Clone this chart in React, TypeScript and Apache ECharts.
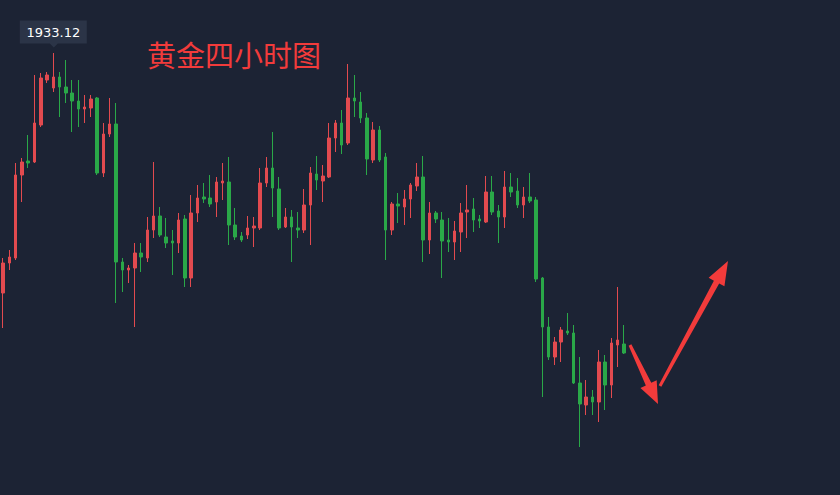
import React, { useEffect, useRef } from "react";
import * as echarts from "echarts";

const openPrices = [
  1897.12, 1901.62, 1902.37, 1914.82, 1916.92, 1916.77, 1922.32, 1929.07, 1927.87, 1929.52,
  1928.02, 1927.12, 1925.92, 1924.72, 1924.87, 1926.37, 1915.12, 1920.97, 1922.47, 1901.77,
  1900.57, 1900.87, 1903.12, 1902.37, 1906.57, 1908.67, 1905.52, 1904.92, 1904.62, 1908.22,
  1899.37, 1909.12, 1911.52, 1911.37, 1910.77, 1913.62, 1913.77, 1907.32, 1905.67, 1905.82,
  1906.87, 1906.87, 1913.62, 1915.87, 1912.72, 1907.02, 1908.52, 1906.87, 1906.57, 1910.32,
  1914.97, 1913.92, 1914.52, 1920.37, 1922.62, 1919.62, 1926.37, 1925.77, 1923.37, 1917.07,
  1921.57, 1917.52, 1906.57, 1910.47, 1910.02, 1911.22, 1913.17, 1914.52, 1905.07, 1909.12,
  1908.07, 1905.07, 1904.77, 1906.27, 1909.27, 1909.72, 1908.22, 1907.77, 1912.27, 1909.42,
  1908.52, 1913.02, 1912.42, 1910.32, 1911.52, 1911.07, 1899.37, 1892.02, 1887.52, 1889.77,
  1891.42, 1891.12, 1883.62, 1880.32, 1881.52, 1880.77, 1886.77, 1883.32, 1889.32, 1889.47,
];

const closePrices = [
  1901.62, 1902.52, 1914.82, 1916.77, 1916.62, 1922.62, 1929.37, 1929.82, 1929.52, 1928.02,
  1927.12, 1925.92, 1924.72, 1925.02, 1926.22, 1915.12, 1920.97, 1922.47, 1901.77, 1900.57,
  1900.87, 1903.12, 1902.52, 1906.57, 1908.67, 1905.82, 1904.62, 1904.62, 1908.07, 1899.37,
  1909.12, 1911.37, 1911.22, 1910.47, 1913.77, 1913.92, 1907.32, 1905.52, 1905.07, 1906.87,
  1907.17, 1913.62, 1915.87, 1912.87, 1906.87, 1908.52, 1907.02, 1906.57, 1910.32, 1915.12,
  1914.07, 1914.67, 1920.37, 1922.62, 1919.32, 1926.37, 1925.92, 1923.37, 1917.22, 1921.57,
  1917.07, 1906.57, 1910.47, 1910.17, 1911.22, 1913.32, 1914.52, 1905.07, 1909.12, 1908.22,
  1904.92, 1904.77, 1906.42, 1909.12, 1909.57, 1908.07, 1907.92, 1912.27, 1909.27, 1908.52,
  1913.02, 1912.27, 1910.32, 1911.52, 1910.92, 1899.22, 1892.02, 1887.52, 1889.77, 1891.57,
  1891.12, 1883.62, 1880.47, 1881.52, 1880.77, 1886.77, 1883.32, 1889.62, 1890.07, 1888.12,
];

const lowPrices = [
  1891.87, 1900.57, 1902.07, 1910.77, 1915.87, 1916.62, 1922.02, 1928.62, 1927.27, 1923.52,
  1925.62, 1921.27, 1922.02, 1922.62, 1923.52, 1914.82, 1914.52, 1920.52, 1895.62, 1897.27,
  1898.62, 1892.02, 1900.27, 1901.77, 1905.37, 1905.52, 1903.87, 1899.82, 1903.12, 1898.02,
  1898.02, 1907.77, 1910.62, 1910.02, 1908.52, 1911.07, 1904.32, 1905.07, 1904.77, 1905.22,
  1904.02, 1906.57, 1913.02, 1908.52, 1906.57, 1906.87, 1901.77, 1905.37, 1906.12, 1904.32,
  1912.57, 1910.77, 1914.37, 1918.27, 1917.97, 1919.32, 1923.52, 1922.62, 1914.82, 1916.62,
  1916.77, 1902.07, 1905.82, 1907.62, 1907.32, 1908.37, 1912.42, 1901.77, 1902.97, 1907.62,
  1899.37, 1903.27, 1902.07, 1903.27, 1905.37, 1906.27, 1906.87, 1907.62, 1908.82, 1904.62,
  1906.87, 1911.52, 1909.87, 1908.37, 1910.62, 1898.77, 1881.52, 1887.07, 1886.32, 1886.77,
  1890.82, 1883.47, 1874.02, 1878.82, 1878.82, 1877.77, 1879.57, 1881.37, 1886.02, 1887.97,
];

const highPrices = [
  1902.37, 1903.57, 1916.62, 1917.37, 1920.82, 1929.82, 1930.12, 1930.27, 1933.12, 1930.27,
  1932.07, 1929.07, 1929.07, 1926.82, 1926.82, 1926.52, 1922.62, 1926.37, 1925.62, 1902.37,
  1901.32, 1904.62, 1904.62, 1908.52, 1916.77, 1910.02, 1908.37, 1906.57, 1909.12, 1908.82,
  1911.82, 1913.32, 1913.62, 1914.82, 1914.52, 1916.62, 1917.52, 1909.87, 1906.27, 1908.67,
  1908.52, 1915.87, 1917.52, 1921.27, 1914.52, 1909.87, 1909.57, 1909.27, 1912.72, 1916.02,
  1917.67, 1916.32, 1922.62, 1923.07, 1924.57, 1931.47, 1929.82, 1927.27, 1924.12, 1922.77,
  1922.17, 1918.12, 1910.77, 1912.12, 1912.57, 1913.62, 1916.62, 1917.67, 1910.77, 1909.42,
  1909.27, 1908.37, 1907.92, 1910.62, 1913.32, 1911.37, 1908.82, 1914.67, 1914.67, 1910.32,
  1915.42, 1915.12, 1914.37, 1913.02, 1915.12, 1911.52, 1899.52, 1893.52, 1890.52, 1892.02,
  1894.12, 1892.32, 1887.52, 1884.07, 1882.57, 1888.57, 1887.82, 1890.37, 1898.02, 1892.32,
];

const categories = openPrices.map((_, i) => "K" + (i + 1));

const TITLE = "黄金四小时图";
const BG = "#1c2334";
const UP = "#e24a4f";
const DOWN = "#2aa848";
const ARROW = "#f23b3b";

export default function App() {
  const ref = useRef<HTMLDivElement>(null);

  useEffect(() => {
    document.body.style.margin = "0";
    const chart = echarts.init(ref.current!, undefined, { renderer: "svg" });
    const data = openPrices.map((o, i) => [o, closePrices[i], lowPrices[i], highPrices[i]]);

    chart.setOption({
      animation: false,
      backgroundColor: BG,
      title: {
        text: TITLE,
        left: 142,
        top: 34,
        textStyle: {
          color: ARROW,
          fontSize: 29,
          fontWeight: "normal",
          fontFamily: "Noto Sans CJK SC",
        },
      },
      grid: { left: 0, right: 213, top: 0, bottom: 0 },
      xAxis: {
        type: "category",
        data: categories,
        show: false,
        boundaryGap: true,
      },
      yAxis: {
        type: "value",
        min: 1866.82,
        max: 1941.07,
        show: false,
        splitLine: { show: false },
      },
      series: [
        {
          type: "candlestick",
          data,
          barWidth: 3,
          itemStyle: {
            color: UP,
            color0: DOWN,
            borderColor: UP,
            borderColor0: DOWN,
            borderWidth: 1,
          },
          markPoint: {
            data: [{ type: "max", valueDim: "highest" }],
            symbol: "path://M0,0L67,0L67,23L38,23L34,27L30,23L0,23Z",
            symbolSize: [67, 27],
            symbolKeepAspect: false,
            symbolOffset: [0, -19],
            itemStyle: { color: "#2b3447" },
            label: {
              show: true,
              position: "inside",
              offset: [0, -2],
              formatter: (p: any) => Number(p.value).toFixed(2),
              color: "#ffffff",
              fontSize: 13,
              fontFamily: "DejaVu Sans",
            },
          },
        },
      ],
      graphic: [
        {
          type: "polygon",
          shape: {
            points: [
              [628.65, 345.64],
              [645.85, 385.42],
              [640.43, 387.99],
              [658, 404],
              [656.69, 380.27],
              [651.27, 382.84],
              [631.35, 344.36],
            ],
          },
          style: { fill: ARROW },
        },
        {
          type: "polygon",
          shape: {
            points: [
              [661.32, 386.72],
              [719.17, 283.5],
              [724.43, 286.37],
              [728, 261],
              [708.63, 277.77],
              [713.89, 280.64],
              [658.68, 385.28],
            ],
          },
          style: { fill: ARROW },
        },
      ],
    });

    return () => chart.dispose();
  }, []);

  return (
    <div
      ref={ref}
      style={{ position: "absolute", left: 0, top: 0, width: 840, height: 495 }}
    />
  );
}
